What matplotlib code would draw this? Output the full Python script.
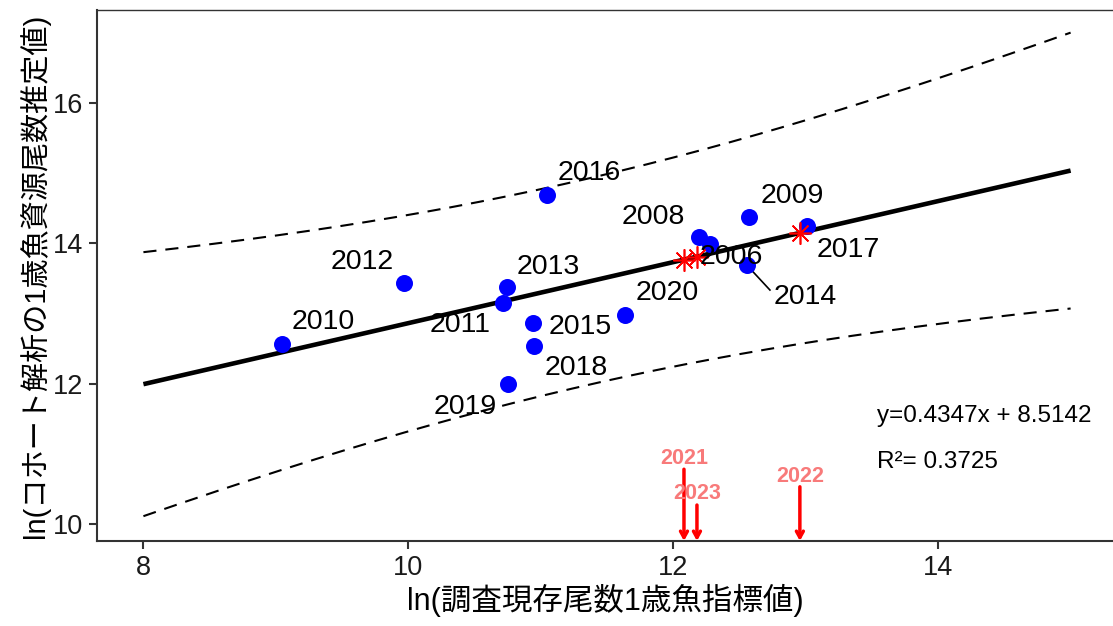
import numpy as np
import matplotlib
matplotlib.use("Agg")
import matplotlib.pyplot as plt

# フォント設定（欧文はArial相当、和文はNoto CJKで補完）
plt.rcParams["font.family"] = ["Liberation Sans", "Noto Sans CJK JP"]

# データ
years = ["2006", "2008", "2009", "2010", "2011", "2012", "2013",
         "2014", "2015", "2016", "2017", "2018", "2019", "2020"]
x_index = [12.277, 12.194, 12.574, 9.045, 10.717, 9.968, 10.743,
           12.555, 10.943, 11.045, 13.007, 10.949, 10.752, 11.636]
y_cohort = [13.988, 14.084, 14.378, 12.564, 13.144, 13.429, 13.381,
            13.689, 12.868, 14.687, 14.245, 12.536, 11.994, 12.977]

# ラベル位置（文字の中心）
label_x = [12.436, 11.847, 12.896, 9.356, 10.390, 9.650, 11.054,
           12.993, 11.296, 11.364, 13.318, 11.266, 10.428, 11.953]
label_y = [13.803, 14.373, 14.672, 12.877, 12.835, 13.732, 13.661,
           13.234, 12.806, 15.000, 13.903, 12.222, 11.667, 13.291]

# 予測対象年（指標値のみ）
pred_years = ["2021", "2022", "2023"]
pred_x = [12.081, 12.956, 12.179]
arrow_top = [10.78, 10.53, 10.27]
pred_label_y = [10.93, 10.67, 10.44]

# 回帰式
slope = 0.4347
intercept = 8.5142
r2 = 0.3725
t_975 = 2.179  # t分布 0.975, 自由度12

x_arr = np.array(x_index)
y_arr = np.array(y_cohort)
n = len(x_arr)
resid = y_arr - (slope * x_arr + intercept)
s = np.sqrt(np.sum(resid ** 2) / (n - 2))
x_mean = x_arr.mean()
sxx = np.sum((x_arr - x_mean) ** 2)

xs = np.linspace(8, 15, 200)
fit = slope * xs + intercept
half = t_975 * s * np.sqrt(1 + 1 / n + (xs - x_mean) ** 2 / sxx)

fig = plt.figure(figsize=(11.13, 6.26), dpi=100)
ax = fig.add_axes([0.0872, 0.1358, 0.9128, 0.848])

# 予測区間と回帰直線
ax.plot(xs, fit + half, color="black", lw=1.5, dashes=(6.3, 4.3))
ax.plot(xs, fit - half, color="black", lw=1.5, dashes=(6.3, 4.3))
ax.plot(xs, fit, color="black", lw=3.3, solid_capstyle="butt")

# 観測点
ax.scatter(x_arr, y_arr, s=150, color="blue", zorder=3, linewidths=0)

# 2014 の引き出し線
i14 = years.index("2014")
ax.plot([x_arr[i14], 12.73], [y_arr[i14], 13.333], color="black", lw=1.2, zorder=2)

for yr, lx, ly in zip(years, label_x, label_y):
    ax.text(lx, ly, yr, fontsize=20.5, ha="center", va="center", zorder=6)

# 予測年の矢印と直線上の点
ymin = 9.758
for yr, px, top, ly in zip(pred_years, pred_x, arrow_top, pred_label_y):
    ax.annotate("", xy=(px, ymin), xytext=(px, top),
                arrowprops=dict(arrowstyle="->,head_length=0.45,head_width=0.25",
                                color="red", lw=2.5, shrinkA=0, shrinkB=0))
    ax.text(px, ly, yr, fontsize=15.5, fontweight="bold", color="#F87A7A",
            ha="center", va="center")
    ax.plot(px, slope * px + intercept, marker=(8, 2, 0), color="red",
            markersize=16, mew=1.2, zorder=5, linestyle="none")

# 回帰式
ax.text(13.54, 11.54, f"y={slope}x + {intercept}", fontsize=17.5, ha="left", va="center")
ax.text(13.54, 10.886, f"R²= {r2}", fontsize=17.5, ha="left", va="center")

ax.set_xlim(7.65, 15.32)
ax.set_ylim(ymin, 17.32)
ax.set_xticks([8, 10, 12, 14])
ax.set_yticks([10, 12, 14, 16])
ax.tick_params(labelsize=19.5, length=6, width=1.5, color="#333333", labelcolor="#1a1a1a", pad=4)

for side in ["left", "bottom", "top"]:
    ax.spines[side].set_color("#333333")
    ax.spines[side].set_linewidth(1.5)
ax.spines["top"].set_linewidth(1.0)
ax.spines["right"].set_visible(False)

ax.set_xlabel("ln(調査現存尾数1歳魚指標値)", fontsize=22, labelpad=2)
ax.set_ylabel("ln(コホート解析の1歳魚資源尾数推定値)", fontsize=21, labelpad=2)

fig.savefig("out.png", dpi=100)
